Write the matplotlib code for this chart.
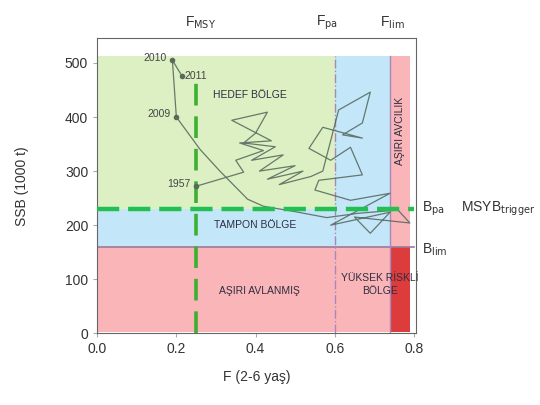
import matplotlib.pyplot as plt
import matplotlib.patches as mpatches

plt.rcParams['font.family'] = ['Liberation Sans', 'DejaVu Sans']

# reference points
F_msy = 0.25
F_pa = 0.6
F_lim = 0.74
B_pa = 230
B_lim = 160

# stock trajectory 1957 -> 2011 (approx)
F_traj = [0.25, 0.37, 0.35, 0.42, 0.36, 0.44, 0.34, 0.43, 0.40, 0.37, 0.45, 0.39,
          0.47, 0.41, 0.50, 0.43, 0.52, 0.46, 0.54, 0.57, 0.61, 0.69, 0.67, 0.62,
          0.67, 0.57, 0.535, 0.59, 0.64, 0.67, 0.56, 0.55, 0.64, 0.74, 0.59, 0.74,
          0.69, 0.65, 0.79, 0.76, 0.66, 0.58, 0.50, 0.42, 0.38, 0.31, 0.26, 0.20,
          0.19, 0.215]
SSB_traj = [272, 298, 320, 338, 352, 356, 394, 409, 370, 352, 345, 320, 330,
            300, 310, 285, 300, 275, 290, 300, 413, 446, 389, 367, 361, 381,
            342, 320, 344, 293, 283, 265, 246, 259, 200, 224, 185, 215, 204,
            228, 222, 214, 225, 235, 248, 300, 340, 400, 505, 475]
year_labels = {0: '1957', 47: '2009', 48: '2010', 49: '2011'}

fig = plt.figure(figsize=(5.4, 4.05), dpi=100)
ax = fig.add_axes([0.18, 0.177, 0.59, 0.729])

x0, x1, ytop = 0.003, 0.79, 512
# zone backgrounds
ax.add_patch(mpatches.Rectangle((x0, B_pa), F_pa - x0, ytop - B_pa, color='#dcf0c4', lw=0, zorder=0))
ax.add_patch(mpatches.Rectangle((F_pa, B_pa), F_lim - F_pa, ytop - B_pa, color='#c3e6f8', lw=0, zorder=0))
ax.add_patch(mpatches.Rectangle((x0, B_lim), F_lim - x0, B_pa - B_lim, color='#c3e6f8', lw=0, zorder=0))
ax.add_patch(mpatches.Rectangle((x0, 3), F_lim - x0, B_lim - 3, color='#fab5b8', lw=0, zorder=0))
ax.add_patch(mpatches.Rectangle((F_lim, B_lim), x1 - F_lim, ytop - B_lim, color='#fab5b8', lw=0, zorder=0))
ax.add_patch(mpatches.Rectangle((F_lim, 3), x1 - F_lim, B_lim - 3, color='#dc3c3c', lw=0, zorder=0))

# reference lines
ax.plot([0, 0.8], [B_lim, B_lim], color='#a07898', lw=1.2, zorder=1)
ax.plot([F_pa, F_pa], [0, ytop], color='#a888b8', lw=1, ls='-.', zorder=1)
ax.plot([F_lim, F_lim], [0, ytop], color='#a888b8', lw=1, zorder=1)
ax.plot([0, 0.8], [B_pa, B_pa], color='#22c050', lw=3.2, ls=(0, (5, 2)), zorder=3)
ax.plot([F_msy, F_msy], [0, 478], color='#3cb030', lw=2.6, ls=(0, (6, 3)), zorder=3)

# trajectory
ax.plot(F_traj, SSB_traj, color='#52645a', lw=0.9, alpha=0.85, zorder=2)
for i, lab in year_labels.items():
    ax.plot(F_traj[i], SSB_traj[i], 'o', ms=3, color='#5a6a5a', zorder=4)
    if lab == '2011':
        ax.text(F_traj[i] + 0.005, SSB_traj[i], lab, fontsize=7.5, color='#444444',
                ha='left', va='center', zorder=5)
    else:
        ax.text(F_traj[i] - 0.015, SSB_traj[i] + 5, lab, fontsize=7.5, color='#444444',
                ha='right', va='center', zorder=5)

# zone labels
zone_kw = dict(fontsize=7.5, color='#2e2e40', zorder=5)
ax.text(0.385, 440, 'HEDEF BÖLGE', ha='center', va='center', **zone_kw)
ax.text(0.40, 200, 'TAMPON BÖLGE', ha='center', va='center', **zone_kw)
ax.text(0.41, 78, 'AŞIRI AVLANMIŞ', ha='center', va='center', **zone_kw)
ax.text(0.715, 90, 'YÜKSEK RİSKLİ\nBÖLGE', ha='center', va='center', linespacing=1.3, **zone_kw)
ax.text(0.766, 375, 'AŞIRI AVCILIK', ha='center', va='center', rotation=90, **zone_kw)

# labels outside the axes
out_kw = dict(fontsize=10, color='#333333', clip_on=False)
ax.text(0.82, B_pa, r'B$_{\mathrm{pa}}$', ha='left', va='center', **out_kw)
ax.text(0.92, B_pa, r'MSYB$_{\mathrm{trigger}}$', ha='left', va='center', **out_kw)
ax.text(0.82, B_lim - 5, r'B$_{\mathrm{lim}}$', ha='left', va='center', **out_kw)
ax.text(0.26, 575, r'F$_{\mathrm{MSY}}$', ha='center', va='center', **out_kw)
ax.text(0.58, 575, r'F$_{\mathrm{pa}}$', ha='center', va='center', **out_kw)
ax.text(0.745, 575, r'F$_{\mathrm{lim}}$', ha='center', va='center', **out_kw)

ax.set_xlim(0, 0.805)
ax.set_ylim(0, 546)
ax.set_xticks([0.0, 0.2, 0.4, 0.6, 0.8])
ax.set_xticklabels(['0.0', '0.2', '0.4', '0.6', '0.8'])
ax.set_yticks([0, 100, 200, 300, 400, 500])
ax.tick_params(labelsize=10, colors='#333333', length=3, color='#aaaaaa')
for s in ax.spines.values():
    s.set_color('#666666')
ax.set_xlabel('F (2-6 yaş)', fontsize=10, color='#333333', labelpad=10)
ax.set_ylabel('SSB (1000 t)', fontsize=10, color='#333333', labelpad=26)

plt.savefig('out.png', dpi=100)
